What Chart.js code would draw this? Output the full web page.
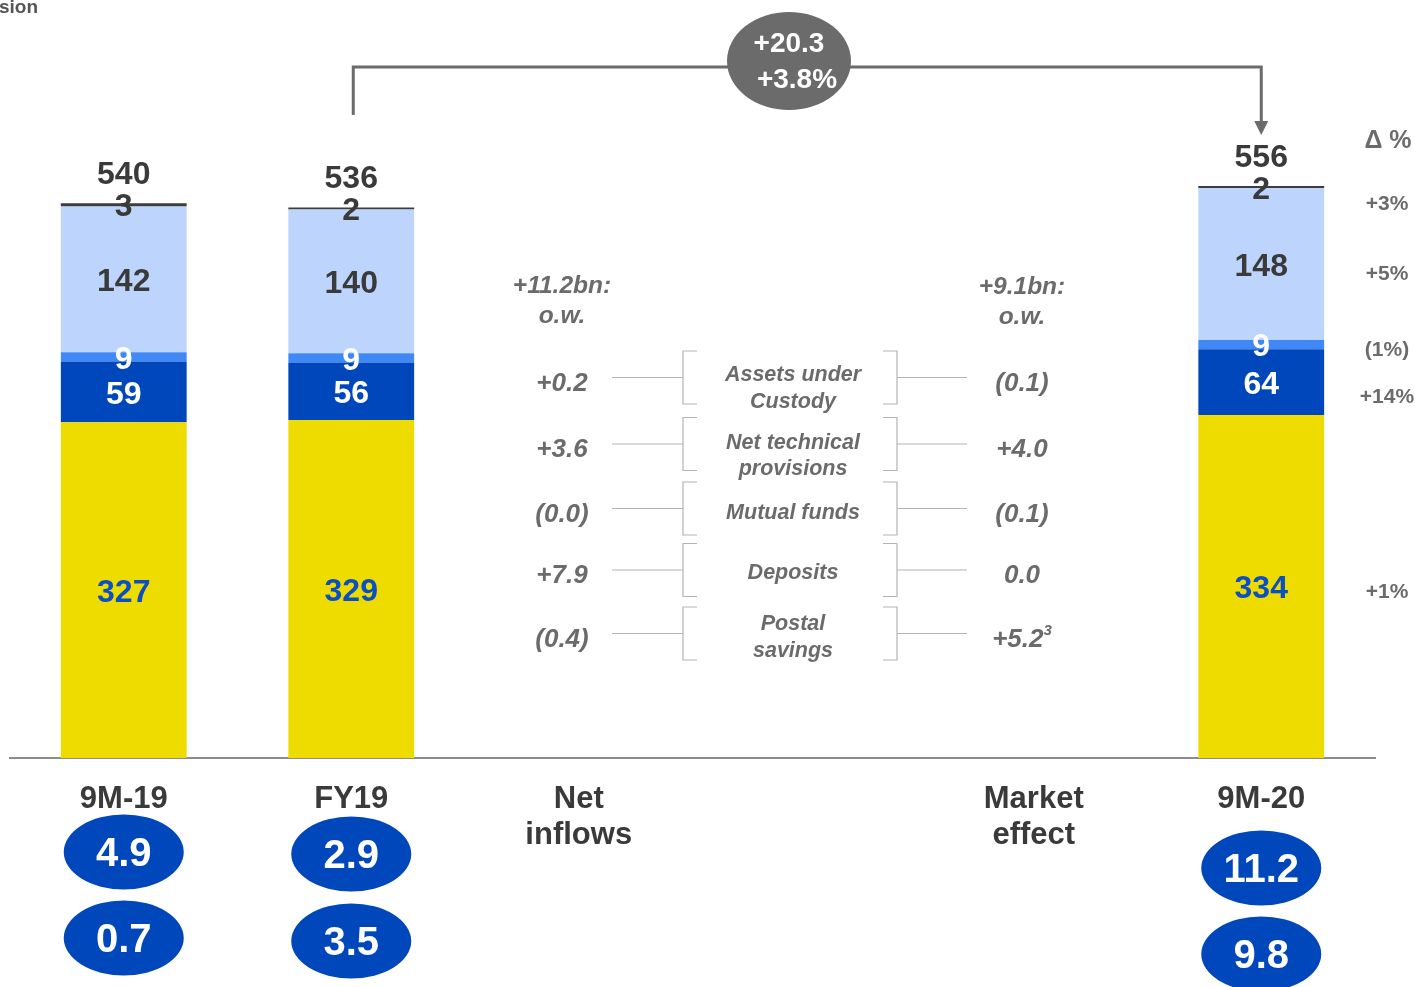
<!DOCTYPE html>
<html><head><meta charset="utf-8">
<script src="https://cdn.jsdelivr.net/npm/chart.js@4/dist/chart.umd.min.js"></script>
<style>html,body{margin:0;padding:0;background:#fff;overflow:hidden}</style>
</head><body>
<canvas id="c" width="1415" height="987"></canvas>
<script>
// ---------- data ----------
const categories = [['9M-19'], ['FY19'], ['Net', 'inflows'], [''], ['Market', 'effect'], ['9M-20']];
const postalSavings       = [327, 329, null, null, null, 334];
const deposits            = [59, 56, null, null, null, 64];
const mutualFunds         = [9, 9, null, null, null, 9];
const technicalProvisions = [142, 140, null, null, null, 148];
const assetsUnderCustody  = [3, 2, null, null, null, 2];
const totals              = [540, 536, null, null, null, 556];
const ellipseTopValues    = ['4.9', '2.9', null, null, null, '11.2'];
const ellipseBottomValues = ['0.7', '3.5', null, null, null, '9.8'];
const deltaHeader = 'Δ %';
const deltaPct = ['+3%', '+5%', '(1%)', '+14%', '+1%']; // AuC, tech. prov., mutual funds, deposits, postal
const changeTotal = '+20.3';
const changePct = '+3.8%';
const tableRows = [['Assets under', 'Custody'], ['Net technical', 'provisions'], ['Mutual funds'], ['Deposits'], ['Postal', 'savings']];
const netInflowsHeader = ['+11.2bn:', 'o.w.'];
const netInflowsValues = ['+0.2', '+3.6', '(0.0)', '+7.9', '(0.4)'];
const marketHeader = ['+9.1bn:', 'o.w.'];
const marketValues = ['(0.1)', '+4.0', '(0.1)', '0.0', '+5.2'];
const marketFootnotes = ['', '', '', '', '3'];

// ---------- style ----------
const FONT = '"Liberation Sans", Arial, Helvetica, sans-serif';
const DARK = '#3a3a3a', GREY = '#6b6b6b', LINEGREY = '#b4b4b4', BLUE = '#0047BB';
const seriesColors = ['#EEDC00', '#0047BB', '#4088F5', '#BDD5FC', '#3d3d3d'];
const labelColors = ['#0B4FC4', '#ffffff', '#ffffff', DARK, DARK];

function text(ctx, s, x, y, font, color, align) {
  ctx.font = font; ctx.fillStyle = color; ctx.textAlign = align || 'center'; ctx.textBaseline = 'middle';
  ctx.fillText(s, x, y);
}

const annotations = {
  id: 'annotations',
  afterDraw(chart) {
    const ctx = chart.ctx, xs = chart.scales.x;
    ctx.save();
    // clipped title fragment
    ctx.font = 'bold 19px ' + FONT; ctx.fillStyle = '#555'; ctx.textAlign = 'left'; ctx.textBaseline = 'alphabetic';
    ctx.fillText('sion', -1, 13);

    // segment labels
    chart.data.datasets.forEach((ds, i) => {
      const meta = chart.getDatasetMeta(i);
      meta.data.forEach((el, j) => {
        if (ds.data[j] == null) return;
        const y = i === 4 ? el.y + 4 : (el.y + el.base) / 2 + 3;
        text(ctx, String(ds.data[j]), el.x, y, 'bold 32px ' + FONT, labelColors[i]);
      });
    });
    // totals
    const topMeta = chart.getDatasetMeta(4);
    totals.forEach((t, j) => {
      if (t == null) return;
      const el = topMeta.data[j];
      text(ctx, String(t), el.x, el.y - 28, 'bold 32px ' + FONT, DARK);
    });

    // blue ellipses under categories
    const ellY1 = [852, 854, 0, 0, 0, 868], ellY2 = [938, 941, 0, 0, 0, 954];
    for (let j = 0; j < categories.length; j++) {
      if (ellipseTopValues[j] == null) continue;
      const x = xs.getPixelForValue(j);
      [[ellipseTopValues[j], ellY1[j]], [ellipseBottomValues[j], ellY2[j]]].forEach(([v, y]) => {
        ctx.beginPath(); ctx.ellipse(x, y, 60, 37.5, 0, 0, Math.PI * 2);
        ctx.fillStyle = BLUE; ctx.fill();
        text(ctx, v, x, y + 3, 'bold 40px ' + FONT, '#fff');
      });
    }

    // top bracket with arrow
    const x1 = xs.getPixelForValue(1) + 2, x2 = xs.getPixelForValue(5);
    ctx.strokeStyle = GREY; ctx.lineWidth = 3; ctx.lineJoin = 'miter';
    ctx.beginPath(); ctx.moveTo(x1, 115); ctx.lineTo(x1, 67); ctx.lineTo(x2, 67); ctx.lineTo(x2, 124); ctx.stroke();
    ctx.beginPath(); ctx.moveTo(x2 - 7, 121); ctx.lineTo(x2 + 7, 121); ctx.lineTo(x2, 135); ctx.closePath();
    ctx.fillStyle = GREY; ctx.fill();
    ctx.beginPath(); ctx.ellipse(789, 61, 62, 49, 0, 0, Math.PI * 2); ctx.fillStyle = GREY; ctx.fill();
    text(ctx, changeTotal, 789, 44, 'bold 28px ' + FONT, '#fff');
    text(ctx, changePct, 797, 80, 'bold 28px ' + FONT, '#fff');

    // delta % column
    text(ctx, deltaHeader, 1388, 141, 'bold 25px ' + FONT, GREY);
    const last = 5;
    const segIdx = [4, 3, 2, 1, 0], segOff = [17, 10, 6, 15, 6];
    segIdx.forEach((di, k) => {
      const el = chart.getDatasetMeta(di).data[last];
      const y = (el.y + el.base) / 2 + segOff[k];
      text(ctx, deltaPct[k], 1387, y, 'bold 21px ' + FONT, GREY);
    });

    // middle table
    const hFont = 'italic bold 24.5px ' + FONT, iFont = 'italic bold 26px ' + FONT, cFont = 'italic bold 21.5px ' + FONT;
    text(ctx, netInflowsHeader[0], 562, 286, hFont, GREY);
    text(ctx, netInflowsHeader[1], 562, 316, hFont, GREY);
    text(ctx, marketHeader[0], 1022, 287, hFont, GREY);
    text(ctx, marketHeader[1], 1022, 317, hFont, GREY);
    const rowC = [377.5, 444, 508.5, 570, 633.5];
    const lineYs = [[375, 402], [443, 469], [513], [573], [624, 651]];
    ctx.strokeStyle = LINEGREY; ctx.lineWidth = 1.2;
    rowC.forEach((c, r) => {
      const t = c - 26.5, b = c + 26.5;
      ctx.beginPath();
      ctx.moveTo(697, t); ctx.lineTo(683, t); ctx.lineTo(683, b); ctx.lineTo(697, b);
      ctx.moveTo(883, t); ctx.lineTo(897, t); ctx.lineTo(897, b); ctx.lineTo(883, b);
      ctx.moveTo(612, c); ctx.lineTo(683, c);
      ctx.moveTo(897, c); ctx.lineTo(967, c);
      ctx.stroke();
      tableRows[r].forEach((s, k) => text(ctx, s, 793, lineYs[r][k], cFont, GREY));
      text(ctx, netInflowsValues[r], 562, c + 6, iFont, GREY);
      if (marketFootnotes[r]) {
        ctx.font = iFont; const w = ctx.measureText(marketValues[r]).width;
        ctx.font = 'italic bold 15px ' + FONT; const fw = ctx.measureText(marketFootnotes[r]).width;
        const x0 = 1022 - (w + fw) / 2;
        text(ctx, marketValues[r], x0, c + 6, iFont, GREY, 'left');
        text(ctx, marketFootnotes[r], x0 + w, c - 3, 'italic bold 15px ' + FONT, GREY, 'left');
      } else {
        text(ctx, marketValues[r], 1022, c + 6, iFont, GREY);
      }
    });
    ctx.restore();
  }
};

const seriesData = [postalSavings, deposits, mutualFunds, technicalProvisions, assetsUnderCustody];
const seriesNames = ['Postal savings', 'Deposits', 'Mutual funds', 'Net technical provisions', 'Assets under Custody'];

new Chart(document.getElementById('c'), {
  type: 'bar',
  data: {
    labels: categories,
    datasets: seriesData.map((d, i) => ({
      label: seriesNames[i], data: d, backgroundColor: seriesColors[i],
      borderWidth: 0, barPercentage: 0.553, categoryPercentage: 1
    }))
  },
  options: {
    responsive: false, animation: false, devicePixelRatio: 1,
    layout: { padding: { left: 10, right: 40, top: 0, bottom: 0 } },
    plugins: { legend: { display: false }, tooltip: { enabled: false } },
    scales: {
      x: {
        stacked: true,
        grid: { display: false, drawTicks: false },
        border: { display: true, color: '#8c8c8c', width: 2 },
        ticks: { color: DARK, font: { family: FONT, size: 31, weight: 'bold', lineHeight: 1.18 }, padding: 23, maxRotation: 0, autoSkip: false },
        afterFit: s => { s.height = 987 - 758; }
      },
      y: { stacked: true, display: false, min: 0, max: 738 }
    }
  },
  plugins: [annotations]
});
</script>
</body></html>
